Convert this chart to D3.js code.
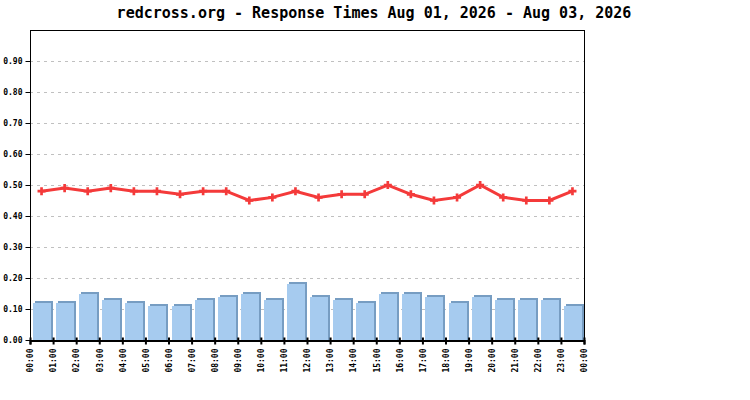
<!DOCTYPE html>
<html>
<head>
<meta charset="utf-8">
<script src="https://cdn.jsdelivr.net/npm/d3@7"></script>
<style>
  body { margin: 0; background: #fff; }
  svg { display: block; }
  .tick text { font-family: "DejaVu Sans Mono", monospace; font-size: 8px; font-weight: bold; fill: #000; }
</style>
</head>
<body>
<div id="chart"></div>
<script>
// DATA
const hours = ["00:00","01:00","02:00","03:00","04:00","05:00","06:00","07:00","08:00","09:00","10:00","11:00",
               "12:00","13:00","14:00","15:00","16:00","17:00","18:00","19:00","20:00","21:00","22:00","23:00","00:00"];
const barValues = [0.12,0.12,0.15,0.13,0.12,0.11,0.11,0.13,0.14,0.15,0.13,0.18,
                   0.14,0.13,0.12,0.15,0.15,0.14,0.12,0.14,0.13,0.13,0.13,0.11];
const lineValues = [0.48,0.49,0.48,0.49,0.48,0.48,0.47,0.48,0.48,0.45,0.46,0.48,
                    0.46,0.47,0.47,0.50,0.47,0.45,0.46,0.50,0.46,0.45,0.45,0.48];
const yTicks = [0,0.1,0.2,0.3,0.4,0.5,0.6,0.7,0.8,0.9];
const title = "redcross.org - Response Times Aug 01, 2026 - Aug 03, 2026";

// DIMENSIONS
const width = 750, height = 400;
const plot = {left: 30, right: 584, top: 30, bottom: 340};

const svg = d3.select("#chart").append("svg")
    .attr("width", width)
    .attr("height", height);

const xScale = d3.scaleLinear().domain([0, 24]).range([plot.left, plot.right]);
const yScale = d3.scaleLinear().domain([0, 1]).range([plot.bottom, plot.top]);

// TITLE
svg.append("text")
    .attr("x", 374)
    .attr("y", 18)
    .attr("text-anchor", "middle")
    .style("font-family", "'DejaVu Sans Mono', monospace")
    .style("font-size", "15px")
    .style("font-weight", "bold")
    .text(title);

// GRID
svg.append("g")
    .selectAll("line")
    .data(yTicks.filter(d => d > 0))
    .enter().append("line")
    .attr("x1", plot.left)
    .attr("x2", plot.right)
    .attr("y1", d => Math.round(yScale(d)) + 0.5)
    .attr("y2", d => Math.round(yScale(d)) + 0.5)
    .attr("stroke", "#c0c0c0")
    .attr("stroke-dasharray", "3,4");

// BARS (3D look: shadow behind, face in front)
const band = xScale(1) - xScale(0);
const bars = svg.append("g").attr("shape-rendering", "crispEdges");
bars.selectAll(".shadow")
    .data(barValues)
    .enter().append("rect")
    .attr("x", (d, i) => Math.round(xScale(i) + 5))
    .attr("y", d => Math.round(yScale(d)) - 2)
    .attr("width", Math.round(band) - 5)
    .attr("height", d => plot.bottom - Math.round(yScale(d)) + 2)
    .attr("fill", "#779dc2");
bars.selectAll(".face")
    .data(barValues)
    .enter().append("rect")
    .attr("x", (d, i) => Math.round(xScale(i) + 3))
    .attr("y", d => Math.round(yScale(d)))
    .attr("width", 18)
    .attr("height", d => plot.bottom - Math.round(yScale(d)))
    .attr("fill", "#a6cbef");

// LINE
const line = d3.line()
    .x((d, i) => xScale(i + 0.5))
    .y(d => yScale(d));
svg.append("path")
    .attr("d", line(lineValues))
    .attr("fill", "none")
    .attr("stroke", "#f43a3a")
    .attr("stroke-width", 3);
svg.append("g")
    .selectAll("path")
    .data(lineValues)
    .enter().append("path")
    .attr("transform", (d, i) => "translate(" + xScale(i + 0.5) + "," + yScale(d) + ")")
    .attr("d", d3.symbol().type(d3.symbolCross).size(36))
    .attr("fill", "#f43a3a");

// FRAME
svg.append("rect")
    .attr("x", plot.left + 0.5)
    .attr("y", plot.top + 0.5)
    .attr("width", plot.right - plot.left)
    .attr("height", plot.bottom - plot.top)
    .attr("fill", "none")
    .attr("stroke", "#000")
    .attr("stroke-width", 1);

// Y AXIS
const yAxis = d3.axisLeft(yScale)
    .tickValues(yTicks)
    .tickSize(5)
    .tickPadding(3)
    .tickFormat(d3.format(".2f"));
svg.append("g")
    .attr("transform", "translate(" + (plot.left + 0.5) + ",0)")
    .call(yAxis)
    .call(g => g.select(".domain").remove());

// X AXIS
const xAxis = d3.axisBottom(xScale)
    .tickValues(d3.range(0, 25))
    .tickSize(4)
    .tickFormat(i => hours[i]);
svg.append("g")
    .attr("transform", "translate(0," + (plot.bottom + 0.5) + ")")
    .call(xAxis)
    .call(g => g.select(".domain").attr("stroke-width", 2))
    .call(g => g.selectAll(".tick line").attr("y1", -3).attr("stroke-width", 2))
    .selectAll("text")
        .attr("y", 0)
        .attr("x", -8)
        .attr("dy", "0.35em")
        .attr("transform", "rotate(-90)")
        .style("text-anchor", "end");
</script>
</body>
</html>
